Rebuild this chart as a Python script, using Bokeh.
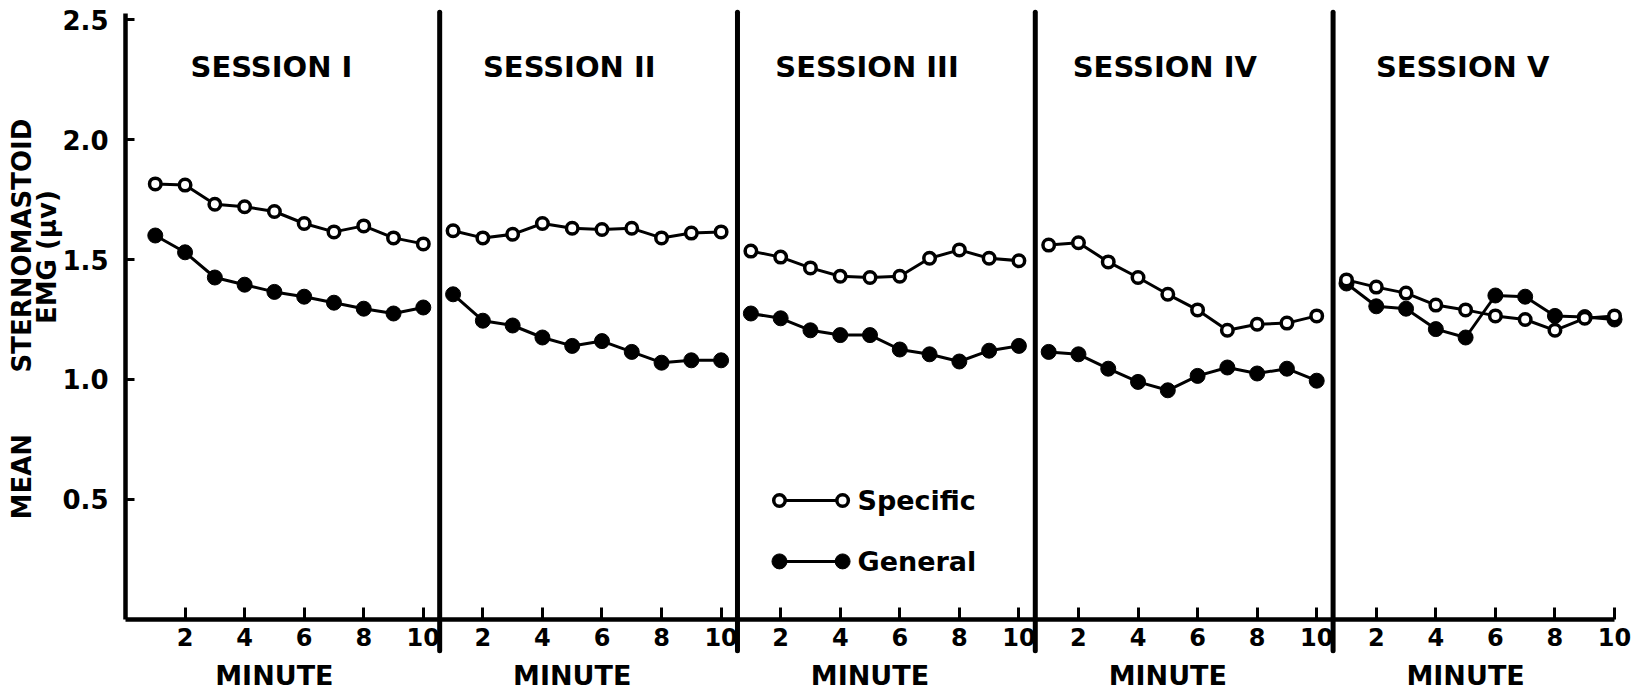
from bokeh.plotting import figure
from bokeh.models import Range1d, FixedTicker, NumeralTickFormatter
from bokeh.core.properties import value
from bokeh.embed import file_html
from bokeh.resources import INLINE

# ---- data -------------------------------------------------------------
sessions = ["SESSION I", "SESSION II", "SESSION III", "SESSION IV", "SESSION V"]
minutes = [1, 2, 3, 4, 5, 6, 7, 8, 9, 10]

specific_1 = [1.815, 1.81, 1.73, 1.72, 1.70, 1.65, 1.615, 1.64, 1.59, 1.565]
general_1 = [1.60, 1.53, 1.425, 1.395, 1.365, 1.345, 1.32, 1.295, 1.275, 1.30]
specific_2 = [1.62, 1.59, 1.605, 1.65, 1.63, 1.625, 1.63, 1.59, 1.61, 1.615]
general_2 = [1.355, 1.245, 1.225, 1.175, 1.14, 1.16, 1.115, 1.07, 1.08, 1.08]
specific_3 = [1.535, 1.51, 1.465, 1.43, 1.425, 1.43, 1.505, 1.54, 1.505, 1.495]
general_3 = [1.275, 1.255, 1.205, 1.185, 1.185, 1.125, 1.105, 1.075, 1.12, 1.14]
specific_4 = [1.56, 1.57, 1.49, 1.425, 1.355, 1.29, 1.205, 1.23, 1.235, 1.265]
general_4 = [1.115, 1.105, 1.045, 0.99, 0.955, 1.015, 1.05, 1.025, 1.045, 0.995]
specific_5 = [1.415, 1.385, 1.36, 1.31, 1.29, 1.265, 1.25, 1.205, 1.255, 1.265]
general_5 = [1.40, 1.305, 1.295, 1.21, 1.175, 1.35, 1.345, 1.265, 1.26, 1.25]

specific = [specific_1, specific_2, specific_3, specific_4, specific_5]
general = [general_1, general_2, general_3, general_4, general_5]

minute_ticks = [2, 4, 6, 8, 10]
y_ticks = [0.5, 1.0, 1.5, 2.0, 2.5]
y_top = 2.525

# ---- layout constants -------------------------------------------------
SPAN = 10            # minutes per session panel on the shared x scale
N = len(sessions)
FONT = value("DejaVu Sans")
INK = "#000000"

# The plotting frame covers the whole canvas; both axes are pinned at the
# data origin so titles and separators can sit around them freely.
p = figure(
    width=1649, height=695,
    min_border=0, min_border_left=0, min_border_right=0,
    min_border_top=0, min_border_bottom=0,
    x_range=Range1d(-4.1975, 51.175),
    y_range=Range1d(-0.3167, 2.5792),
    output_backend="svg", toolbar_location=None,
    background_fill_color="white", border_fill_color="white",
)
p.outline_line_color = None
p.xgrid.visible = False
p.ygrid.visible = False

xt = [k * SPAN + m for k in range(N) for m in minute_ticks]
p.xaxis.ticker = FixedTicker(ticks=xt)
p.xaxis.major_label_overrides = {
    float(k * SPAN + m): str(m) for k in range(N) for m in minute_ticks
}
p.xaxis.bounds = (0, SPAN * N)
p.xaxis.fixed_location = 0

p.yaxis.ticker = FixedTicker(ticks=y_ticks)
p.yaxis.formatter = NumeralTickFormatter(format="0.0")
p.yaxis.bounds = (0, y_top)
p.yaxis.fixed_location = 0

for ax in (p.xaxis[0], p.yaxis[0]):
    ax.axis_line_color = INK
    ax.axis_line_width = 4.5
    ax.major_tick_line_color = INK
    ax.major_tick_line_width = 3
    ax.major_tick_out = 0
    ax.minor_tick_line_color = None
    ax.major_label_text_font = "DejaVu Sans"
    ax.major_label_text_font_style = "bold"
    ax.major_label_text_color = INK
p.xaxis.major_tick_in = 12
p.xaxis.major_label_text_font_size = "24px"
p.xaxis.major_label_standoff = 9
p.yaxis.major_tick_in = 9
p.yaxis.major_label_text_font_size = "26px"
p.yaxis.major_label_standoff = 17

# session separators
sep_x = [k * SPAN + 0.55 for k in range(1, N)]
p.segment(x0=sep_x, y0=[-0.13] * len(sep_x), x1=sep_x, y1=[2.53] * len(sep_x),
          line_color=INK, line_width=5, line_cap="round")

# data series
for k in range(N):
    xs = [k * SPAN + m for m in minutes]
    p.line(xs, general[k], line_color=INK, line_width=3)
    p.line(xs, specific[k], line_color=INK, line_width=3)
    p.scatter(xs, general[k], marker="circle", size=15,
              fill_color=INK, line_color=INK, line_width=1)
    p.scatter(xs, specific[k], marker="circle", size=11.5,
              fill_color="white", line_color=INK, line_width=3.5)

# session titles
p.text(x=[k * SPAN + 4.9 for k in range(N)], y=[2.304] * N,
       text=sessions, text_font=FONT, text_font_style="bold", text_font_size="29px",
       text_color=INK, text_align="center", text_baseline="middle")

# x axis title under each panel
p.text(x=[k * SPAN + 5 for k in range(N)], y=[-0.233] * N, text=["MINUTE"] * N,
       text_font=FONT, text_font_style="bold", text_font_size="27px",
       text_color=INK, text_align="center", text_baseline="middle")

# y axis title, rotated
p.text(x=[-3.46, -3.46, -2.62], y=[0.595, 1.558, 1.51],
       text=["MEAN", "STERNOMASTOID", "EMG (\u03bcv)"], angle=1.5707963,
       text_font=FONT, text_font_style="bold", text_font_size="26px",
       text_color=INK, text_align="center", text_baseline="middle")

# key
key_x = [21.96, 24.08]
p.line(key_x, [0.496, 0.496], line_color=INK, line_width=3)
p.scatter(key_x, [0.496, 0.496], marker="circle", size=11.5,
          fill_color="white", line_color=INK, line_width=3.5)
p.line(key_x, [0.242, 0.242], line_color=INK, line_width=3)
p.scatter(key_x, [0.242, 0.242], marker="circle", size=15,
          fill_color=INK, line_color=INK, line_width=1)
p.text(x=[24.58, 24.58], y=[0.496, 0.242], text=["Specific", "General"],
       text_font=FONT, text_font_style="bold", text_font_size="27px",
       text_color=INK, text_align="left", text_baseline="middle")

open("out.html", "w").write(file_html(p, INLINE))
